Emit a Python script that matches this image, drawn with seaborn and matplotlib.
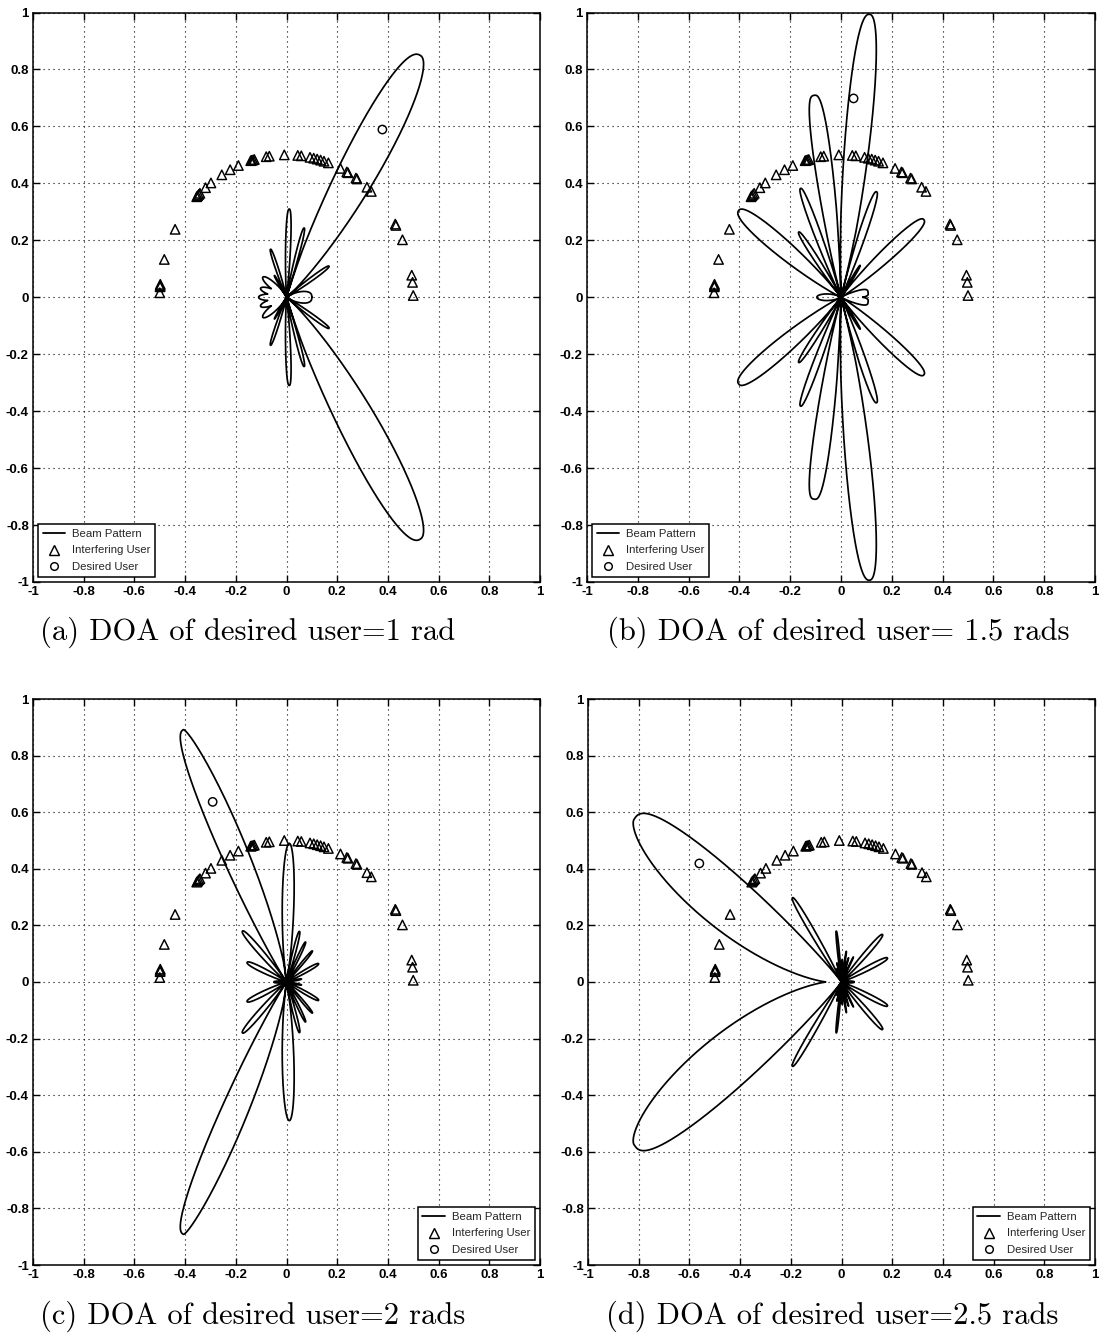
import numpy as np
import matplotlib
matplotlib.use("Agg")
import matplotlib.pyplot as plt
import seaborn as sns
from matplotlib.lines import Line2D

# ---------------- data ----------------
# interfering users: direction of arrival (degrees), all on radius 0.5
INTERFERER_DOA_DEG = [0.7, 6.0, 8.9, 23.8, 30.3, 30.9, 48.0, 50.6, 56.2, 56.8,
                      61.0, 61.6, 64.8, 70.7, 72.8, 74.4, 76.0, 77.6, 79.3,
                      83.3, 84.9, 91.0, 97.8, 99.2, 104.7, 105.3, 105.9, 106.4,
                      112.3, 116.4, 120.7, 126.6, 129.7, 133.1, 133.8, 134.5,
                      135.1, 151.5, 164.6, 174.8, 175.3, 175.8, 178.2]
INTERFERER_RADIUS = 0.5
# desired user DOA (rad) per panel, radius 0.7
DESIRED_DOA_RAD = [1.0, 1.5, 2.0, 2.5]
DESIRED_RADIUS = 0.7

# beam-pattern lobes (upper half-plane, mirrored about the array axis)
# centre angle (deg), peak radius, spread toward smaller / larger angle, shape exponents
A_CENTER = [58, 88, 74, 110.5, 122, 143, 163, 180, 33, 0]
A_PEAK   = [1.0, 0.31, 0.253, 0.18, 0.09, 0.117, 0.107, 0.11, 0.2, 0.1]
A_S_LO   = [10.5, 4.0, 3.5, 4.0, 3.0, 14, 14, 14, 4.0, 24]
A_S_HI   = [9.0, 4.0, 3.5, 4.0, 3.0, 14, 14, 14, 4.0, 24]
A_P_LO   = [2.0, 2.5, 2.5, 2.5, 2.5, 2.0, 2.0, 2.0, 2.5, 3.0]
A_P_HI   = [2.5, 2.5, 2.5, 2.5, 2.5, 2.0, 2.0, 2.0, 2.5, 3.0]

B_CENTER = [83.5, 98.5, 112.6, 126, 143, 69.3, 56, 39.8, 9, 180]
B_PEAK   = [1.0, 0.717, 0.414, 0.283, 0.505, 0.396, 0.135, 0.425, 0.108, 0.095]
B_S_LO   = [6.6, 5.5, 4.0, 4.0, 8.0, 4.5, 3.0, 7.0, 13, 16.5]
B_S_HI   = [6.0, 5.5, 4.0, 4.0, 8.0, 4.5, 3.0, 7.0, 13, 16.5]
B_P_LO   = [2.2, 3.0, 2.5, 2.5, 2.5, 2.5, 2.5, 2.5, 4.0, 2.0]
B_P_HI   = [2.5, 3.0, 2.5, 2.5, 2.5, 2.5, 2.5, 2.5, 4.0, 2.0]

C_CENTER = [114.5, 88.7, 134, 156, 74, 62, 47, 27, 10, 180]
C_PEAK   = [0.98, 0.49, 0.25, 0.17, 0.186, 0.16, 0.15, 0.142, 0.06, 0.05]
C_S_LO   = [8.0, 6.3, 5.0, 6.0, 4.0, 3.5, 3.5, 5.0, 4.0, 8.0]
C_S_HI   = [6.5, 6.3, 5.0, 6.0, 4.0, 3.5, 3.5, 5.0, 4.0, 8.0]
C_P_LO   = [1.5, 2.0, 2.5, 2.5, 2.5, 2.5, 2.5, 2.5, 2.5, 2.5]
C_P_HI   = [2.5, 2.0, 2.5, 2.5, 2.5, 2.5, 2.5, 2.5, 2.5, 2.5]

D_CENTER = [145, 123, 96.5, 46, 25, 0, 62, 72, 80, 88, 105, 112]
D_PEAK   = [1.0, 0.355, 0.181, 0.233, 0.2, 0.05, 0.1, 0.09, 0.11, 0.08, 0.07, 0.05]
D_S_LO   = [9.0, 3.5, 2.5, 4.5, 5.0, 8.0, 1.8, 1.8, 1.8, 1.8, 1.8, 1.8]
D_S_HI   = [18.5, 3.5, 2.5, 4.5, 5.0, 8.0, 1.8, 1.8, 1.8, 1.8, 1.8, 1.8]
D_P_LO   = [3.0, 2.5, 2.5, 2.5, 2.5, 2.5, 2.5, 2.5, 2.5, 2.5, 2.5, 2.5]
D_P_HI   = [1.6, 2.5, 2.5, 2.5, 2.5, 2.5, 2.5, 2.5, 2.5, 2.5, 2.5, 2.5]

CAPTIONS = ["(a) DOA of desired user=1 rad",
            "(b) DOA of desired user= 1.5 rads",
            "(c) DOA of desired user=2 rads",
            "(d) DOA of desired user=2.5 rads"]
LEGEND_LABELS = ["Beam Pattern", "Interfering User", "Desired User"]
TICKS = [-1, -0.8, -0.6, -0.4, -0.2, 0, 0.2, 0.4, 0.6, 0.8, 1]
TICK_LABELS = ["-1", "-0.8", "-0.6", "-0.4", "-0.2", "0", "0.2", "0.4", "0.6", "0.8", "1"]

PANELS = [
    (A_CENTER, A_PEAK, A_S_LO, A_S_HI, A_P_LO, A_P_HI),
    (B_CENTER, B_PEAK, B_S_LO, B_S_HI, B_P_LO, B_P_HI),
    (C_CENTER, C_PEAK, C_S_LO, C_S_HI, C_P_LO, C_P_HI),
    (D_CENTER, D_PEAK, D_S_LO, D_S_HI, D_P_LO, D_P_HI),
]

NULL_RATIO = 0.4      # valleys deeper than this (relative) become true nulls
NULL_WIDTH = 1.5      # degrees


def beam_xy(center, peak, s_lo, s_hi, p_lo, p_hi):
    th = np.linspace(0.0, 180.0, 7201)
    F = []
    for c, pk, a, b, pa, pb in zip(center, peak, s_lo, s_hi, p_lo, p_hi):
        d = th - c
        s = np.where(d < 0, a, b)
        p = np.where(d < 0, pa, pb)
        F.append(pk * np.exp(-(np.abs(d) / s) ** p))
    F = np.array(F)
    r = F.max(axis=0)
    order = np.argsort(center)
    g = np.ones_like(th)
    for i, j in zip(order[:-1], order[1:]):
        m = (th > center[i]) & (th < center[j])
        if not m.any():
            continue
        diff = np.abs(F[i][m] - F[j][m])
        k = np.argmin(diff)
        tn = th[m][k]
        v = r[m][k]
        if v < NULL_RATIO * min(peak[i], peak[j]):
            g = np.minimum(g, np.clip(np.abs(th - tn) / NULL_WIDTH, 0, 1) ** 0.5)
    r = r * g
    full_th = np.concatenate([th, 360.0 - th[::-1][1:]])
    full_r = np.concatenate([r, r[::-1][1:]])
    rad = np.deg2rad(full_th)
    return full_r * np.cos(rad), full_r * np.sin(rad)


# ---------------- styling ----------------
sns.set_theme(style="ticks")
plt.rcParams["font.family"] = ["Liberation Sans Narrow", "Liberation Sans", "DejaVu Sans"]
plt.rcParams["axes.unicode_minus"] = False

W, H = 1100, 1336
fig = plt.figure(figsize=(W / 100, H / 100), dpi=100)

# axes rectangles in pixels: left, top, right, bottom
rects = [(33, 12.5, 540, 582), (587, 12.5, 1095, 582),
         (33, 699, 540, 1265), (588, 699, 1095, 1265)]
legend_locs = ["lower left", "lower left", "lower right", "lower right"]
caption_pos = [(40, 632), (607, 632), (40, 1316), (606, 1316)]

int_rad = np.deg2rad(INTERFERER_DOA_DEG)
ix = INTERFERER_RADIUS * np.cos(int_rad)
iy = INTERFERER_RADIUS * np.sin(int_rad)

for k, (l, t, r_, b) in enumerate(rects):
    ax = fig.add_axes([l / W, 1 - b / H, (r_ - l) / W, (b - t) / H])
    bx, by = beam_xy(*PANELS[k])
    sns.lineplot(x=bx, y=by, sort=False, estimator=None, color="black",
                 linewidth=1.25, ax=ax, legend=False)
    sns.scatterplot(x=ix, y=iy, marker="^", s=46, color="none",
                    edgecolor="black", linewidth=1.05, ax=ax, legend=False)
    dx = DESIRED_RADIUS * np.cos(DESIRED_DOA_RAD[k])
    dy = DESIRED_RADIUS * np.sin(DESIRED_DOA_RAD[k])
    sns.scatterplot(x=[dx], y=[dy], marker="o", s=36, color="none",
                    edgecolor="black", linewidth=1.05, ax=ax, legend=False)

    ax.set_xlim(-1, 1)
    ax.set_ylim(-1, 1)
    ax.set_xticks(TICKS)
    ax.set_yticks(TICKS)
    ax.set_xticklabels(TICK_LABELS, fontweight="bold")
    ax.set_yticklabels(TICK_LABELS, fontweight="bold")
    ax.tick_params(direction="in", length=5, width=1, top=True, right=True,
                   labelsize=9.5, colors="black", pad=3)
    ax.grid(True, color="black", linestyle=(0, (1, 3.5)), linewidth=0.8)
    for sp in ax.spines.values():
        sp.set_visible(True)
        sp.set_color("black")
        sp.set_linewidth(1.1)
    ax.set_xlabel("")
    ax.set_ylabel("")

    handles = [Line2D([], [], color="black", lw=1.3),
               Line2D([], [], color="black", lw=0, marker="^", markersize=6.5,
                      markerfacecolor="none", markeredgewidth=1.05),
               Line2D([], [], color="black", lw=0, marker="o", markersize=5.5,
                      markerfacecolor="none", markeredgewidth=1.05)]
    leg = ax.legend(handles, LEGEND_LABELS, loc=legend_locs[k],
                    prop={"size": 8.2},
                    frameon=True, fancybox=False, edgecolor="black",
                    framealpha=1, borderaxespad=0.45, handlelength=2.0,
                    labelspacing=0.6, borderpad=0.4, handletextpad=0.6)
    leg.get_frame().set_linewidth(1.1)

    cx, cy = caption_pos[k]
    fig.text(cx / W, 1 - cy / H, CAPTIONS[k], ha="left", va="center",
             fontsize=22, family="cmr10", color="black")

fig.savefig("out.png", dpi=100)
